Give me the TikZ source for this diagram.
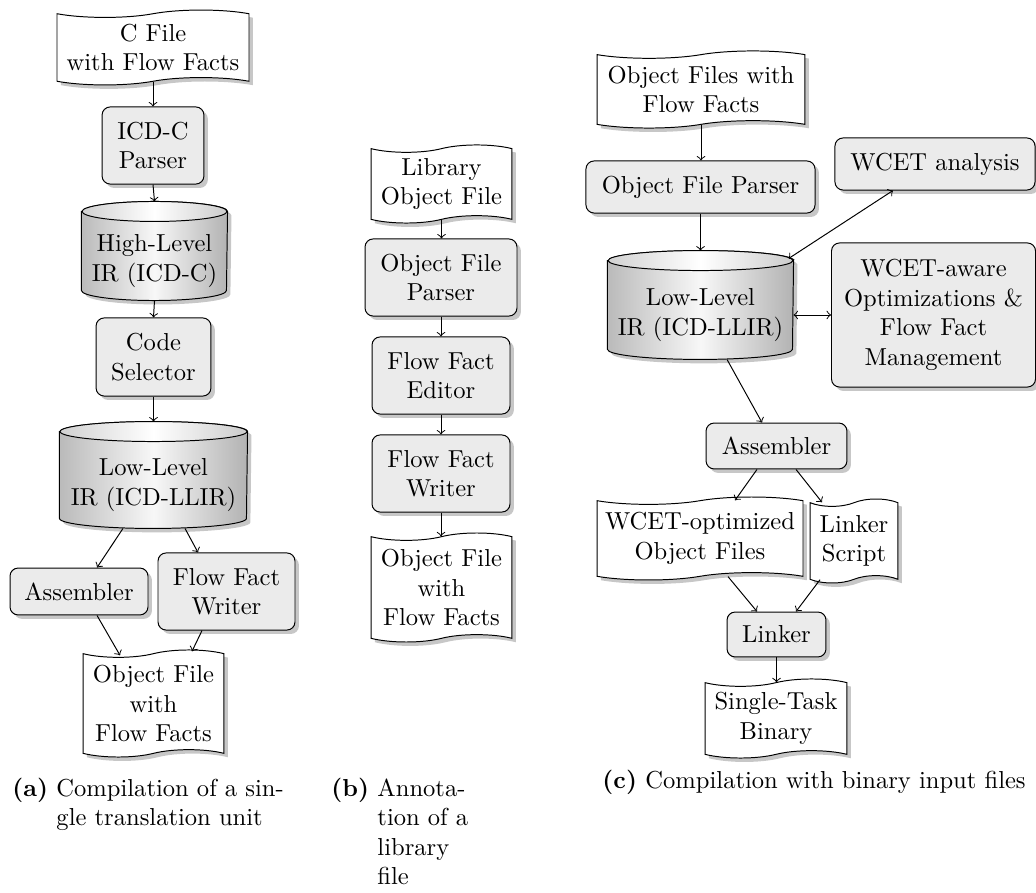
\documentclass[tikz,border=0pt]{standalone}
\usetikzlibrary{shapes.symbols,shadows,calc,backgrounds}
\tikzset{
  shdw/.style={drop shadow={shadow xshift=1.6pt, shadow yshift=-1.6pt, fill=black!22, opacity=1}},
  box/.style={draw, rounded corners=3.3pt, fill=black!8, align=center, inner sep=1pt, shdw},
  doc/.style={tape, draw, fill=white, align=center, inner sep=1pt, tape bend height=3pt, shdw},
  cyl/.style={align=center, inner sep=0pt},
  arr/.style={->},
  darr/.style={<->},
  captext/.style={anchor=base west, inner sep=0pt},
}
\newcommand{\cylpath}[2]{($(#1.north west)+(0,-10)$) -- ($(#1.south west)+(0,-10)$)
  arc[start angle=180,end angle=360,x radius=#2,y radius=4.07pt]
  -- ($(#1.north east)+(0,-10)$)
  arc[start angle=0,end angle=180,x radius=#2,y radius=4.07pt] -- cycle}
\newcommand{\drawcyl}[2]{%
  \fill[black!22, transform canvas={shift={(1.6pt,-1.6pt)}}] \cylpath{#1}{#2};
  \shade[left color=black!27, right color=black!30, middle color=black!3] \cylpath{#1}{#2};
  \draw \cylpath{#1}{#2};
  \shade[draw, left color=black!18, right color=black!20, middle color=white]
    ($(#1.north)+(0,-10)$) ellipse[x radius=#2, y radius=4.07pt];
}
\begin{document}
\begin{tikzpicture}[x=0.4073pt, y=-0.4073pt]
\useasboundingbox (0,0) rectangle (1036,893);

% ---------------- (a)
\node[doc, minimum width=78.2pt, minimum height=30.5pt] (cfile) at (153,47.5) {C File\\with Flow Facts};
\node[box, minimum width=41.5pt, minimum height=31.4pt] (parserA) at (153,145.5) {ICD-C\\Parser};
\node[cyl, minimum width=59.1pt, minimum height=31.8pt] (hlir) at (154.5,261) {High-Level\\IR (ICD-C)};
\node[box, minimum width=46.8pt, minimum height=31.8pt] (codesel) at (153.5,357) {Code\\Selector};
\node[cyl, minimum width=76.2pt, minimum height=35.0pt] (llirA) at (153.5,485) {Low-Level\\IR (ICD-LLIR)};
\node[box, minimum width=56.2pt, minimum height=19.1pt] (asmA) at (79,591.5) {Assembler};
\node[box, minimum width=55.8pt, minimum height=31.4pt] (ffwA) at (226.5,591.5) {Flow Fact\\Writer};
\node[doc, minimum width=57.4pt, minimum height=43.6pt] (objA) at (153.5,703.5) {Object File\\with\\Flow Facts};

% ---------------- (b)
\node[doc, minimum width=57.4pt, minimum height=31.8pt] (libobj) at (441.5,184) {Library\\Object File};
\node[box, minimum width=61.9pt, minimum height=31.4pt] (parserB) at (441,277.5) {Object File\\Parser};
\node[box, minimum width=56.2pt, minimum height=31.4pt] (editor) at (441,375.5) {Flow Fact\\Editor};
\node[box, minimum width=56.2pt, minimum height=31.4pt] (ffwB) at (441,473.5) {Flow Fact\\Writer};
\node[doc, minimum width=57.4pt, minimum height=44.4pt] (objB) at (441.5,587.5) {Object File\\with\\Flow Facts};

% ---------------- (c)
\node[doc, minimum width=84.7pt, minimum height=31.4pt] (objs) at (701,89.5) {Object Files with\\Flow Facts};
\node[box, minimum width=93.3pt, minimum height=21.2pt] (parserC) at (700.5,187) {Object File Parser};
\node[box, minimum width=81.5pt, minimum height=21.2pt] (wcet) at (935,164) {WCET analysis};
\node[cyl, minimum width=75.4pt, minimum height=35.8pt] (llirC) at (700.5,315) {Low-Level\\IR (ICD-LLIR)};
\node[box, minimum width=83.1pt, minimum height=58.7pt] (aware) at (933.5,315) {WCET-aware\\Optimizations \&\\Flow Fact\\Management};
\node[box, minimum width=57.4pt, minimum height=18.7pt] (asmC) at (776.5,446) {Assembler};
\node[doc, minimum width=83.9pt, minimum height=33.8pt] (wopt) at (700,538.5) {WCET-optimized\\Object Files};
\node[doc, minimum width=35.8pt, minimum height=34.2pt] (lscript) at (854,541) {Linker\\Script};
\node[box, minimum width=40.3pt, minimum height=18.3pt] (linker) at (776.5,634.5) {Linker};
\node[doc, minimum width=57.8pt, minimum height=32.2pt] (binary) at (776,718.5) {Single-Task\\Binary};

% ---------------- cylinders
\begin{pgfonlayer}{background}
\drawcyl{hlir}{29.53pt}
\drawcyl{llirA}{38.08pt}
\drawcyl{llirC}{37.68pt}
\end{pgfonlayer}

% ---------------- connectors (a)
\draw[arr] (cfile.south) -- (parserA.north);
\draw[arr] (parserA.south) -- ($(hlir.north)+(0,-20)$);
\draw[arr] (hlir.south) -- (codesel.north);
\draw[arr] (codesel.south) -- ($(llirA.north)+(0,-20)$);
\draw[arr] ($(llirA.south)+(-30.5,0)$) -- ($(asmA.north)+(18,0)$);
\draw[arr] ($(llirA.south)+(31.5,0)$) -- ($(ffwA.north)+(-28.5,0)$);
\draw[arr] ($(asmA.south)+(18,0)$) -- ($(objA.north)+(-33.5,2)$);
\draw[arr] ($(ffwA.south)+(-24.5,0)$) -- ($(objA.north)+(38.5,-2)$);

% ---------------- connectors (b)
\draw[arr] (libobj.south) -- (libobj.south |- parserB.north);
\draw[arr] (parserB.south) -- (parserB.south |- editor.north);
\draw[arr] (editor.south) -- (editor.south |- ffwB.north);
\draw[arr] (ffwB.south) -- (ffwB.south |- objB.north);

% ---------------- connectors (c)
\draw[arr] (objs.south) -- (objs.south |- parserC.north);
\draw[arr] (parserC.south) -- ($(llirC.north)+(0,-20)$);
\draw[darr] ($(wcet.south)+(-42,0)$) -- ($(llirC.north east)+(-5,-12)$);
\draw[darr] (llirC.east |- aware.west) -- (aware.west);
\draw[arr] ($(llirC.south)+(26.5,0)$) -- ($(asmC.north)+(-14.5,0)$);
\draw[arr] ($(asmC.south)+(-19.5,0)$) -- ($(wopt.north)+(35,0)$);
\draw[arr] ($(asmC.south)+(19.5,0)$) -- ($(lscript.north)+(-32,0)$);
\draw[arr] ($(wopt.south)+(28,0)$) -- ($(linker.north)+(-19.5,0)$);
\draw[arr] ($(lscript.south)+(-34,0)$) -- ($(linker.north)+(19.5,0)$);
\draw[arr] (linker.south) -- (linker.south |- binary.north);

% ---------------- captions
\node[captext] (capa) at (12,796) {\textbf{(a)}};
\node[captext] (capa1) at (56,796) {Compilation of a sin-};
\node[captext] (capa2) at (56,825.5) {gle translation unit};
\node[captext] (capb) at (331,796) {\textbf{(b)}};
\node[captext] (capb1) at (377,796) {Annota-};
\node[captext] (capb2) at (377,825.5) {tion of a};
\node[captext] (capb3) at (377,855) {library};
\node[captext] (capb4) at (377,884.5) {file};
\node[captext] (capc) at (602,788) {\textbf{(c)}};
\node[captext] (capc1) at (645,788) {Compilation with binary input files};
\end{tikzpicture}
\end{document}
